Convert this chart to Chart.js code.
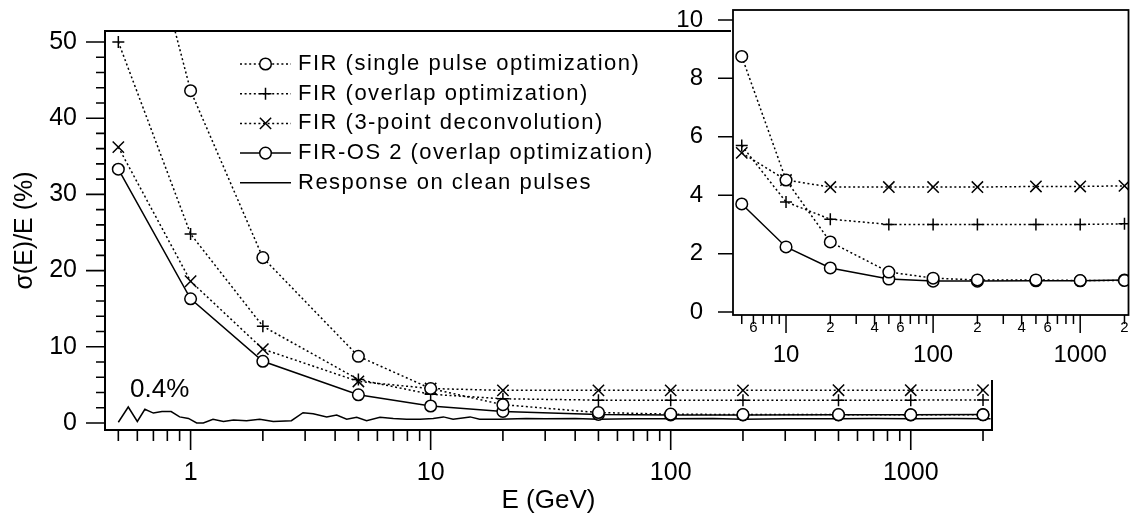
<!DOCTYPE html>
<html><head><meta charset="utf-8">
<script src="https://cdn.jsdelivr.net/npm/chart.js@4.4.1/dist/chart.umd.min.js"></script>
<style>
html,body{margin:0;padding:0;background:#fff;}
#wrap{position:relative;width:1138px;height:516px;overflow:hidden;background:#fff;}
#main{position:absolute;left:0;top:0;}
#inset{position:absolute;left:660px;top:0;}
</style></head><body>
<div id="wrap">
<canvas id="main" width="1138" height="516"></canvas>
<canvas id="inset" width="478" height="380"></canvas>
</div>
<script>
// ---------- data ----------
const energies   = [0.5, 1, 2, 5, 10, 20, 50, 100, 200, 500, 1000, 2000];
const firSingle  = [80, 43.6, 21.7, 8.75, 4.52, 2.4, 1.37, 1.16, 1.1, 1.1, 1.08, 1.08];
const firOverlap = [50, 24.8, 12.7, 5.7, 3.77, 3.18, 3.0, 3.0, 3.0, 3.0, 3.0, 3.02];
const fir3Point  = [36.2, 18.6, 9.7, 5.45, 4.52, 4.28, 4.28, 4.28, 4.28, 4.3, 4.3, 4.32];
const firOS2     = [33.3, 16.3, 8.1, 3.7, 2.23, 1.51, 1.13, 1.06, 1.06, 1.07, 1.07, 1.1];
const cleanE     = [0.5, 0.55, 0.6, 0.645, 0.7, 0.76, 0.83, 0.9, 0.98, 1.06, 1.13, 1.24, 1.37, 1.51, 1.71, 1.94, 2.21, 2.63, 2.94, 3.24,
                    3.69, 4.06, 4.47, 4.92, 5.41, 6.15, 6.99, 7.94, 9.02, 10.25, 11.3, 12.4, 14.6, 16.0, 19.4, 25, 30, 40, 50, 70,
                    100, 150, 200, 300, 500, 700, 1000, 1500, 2000, 2150];
const cleanSigma = [0.1, 2.1, 0.2, 1.8, 1.3, 1.5, 1.5, 0.8, 0.6, 0.0, 0.0, 0.5, 0.2, 0.4, 0.3, 0.5, 0.2, 0.3, 1.35, 1.2,
                    0.8, 1.05, 0.5, 0.75, 0.3, 0.75, 0.6, 0.5, 0.5, 0.6, 0.8, 0.5, 0.8, 0.5, 0.5, 0.6, 0.55, 0.6, 0.5, 0.55,
                    0.55, 0.6, 0.5, 0.55, 0.55, 0.6, 0.55, 0.6, 0.55, 0.55];
const seriesNames = ['FIR (single pulse optimization)', 'FIR (overlap optimization)', 'FIR (3-point deconvolution)',
                     'FIR-OS 2 (overlap optimization)', 'Response on clean pulses'];
const noteText = '0.4%';

// ---------- tick labels ----------
const mainXTickValues = [1, 10, 100, 1000];
const mainXTickLabels = ['1', '10', '100', '1000'];
const mainXMinor = [0.5,0.6,0.7,0.8,0.9, 2,3,4,5,6,7,8,9, 20,30,40,50,60,70,80,90, 200,300,400,500,600,700,800,900, 2000];
const mainYTickValues = [0, 10, 20, 30, 40, 50];
const mainYTickLabels = ['0', '10', '20', '30', '40', '50'];
const mainYMinor = [2,4,6,8,12,14,16,18,22,24,26,28,32,34,36,38,42,44,46,48];
const insetXTickValues = [6, 10, 20, 40, 60, 100, 200, 400, 600, 1000, 2000];
const insetXTickLabels = ['6', ['', '10'], '2', '4', '6', ['', '100'], '2', '4', '6', ['', '1000'], '2'];
const insetXMajor = [10, 100, 1000];
const insetXMinor = [5,6,7,8,9, 20,30,40,50,60,70,80,90, 200,300,400,500,600,700,800,900, 2000];
const insetYTickValues = [0, 2, 4, 6, 8, 10];
const insetYTickLabels = ['0', '2', '4', '6', '8', '10'];

const FONT = "'Liberation Sans', Arial, Helvetica, sans-serif";
Chart.defaults.font.family = FONT;
Chart.defaults.color = '#000';

const pts = (xs, ys, from) => xs.map((x, i) => ({x, y: ys[i]})).slice(from || 0);

const styles = [
  {dash: [2, 2.6], marker: 'circle', radius: 5.8},
  {dash: [2, 2.6], marker: 'cross', radius: 6},
  {dash: [2, 2.6], marker: 'crossRot', radius: 8},
  {dash: [], marker: 'circle', radius: 5.8},
  {dash: [], marker: false, radius: 0}
];

function makeDatasets(from, withClean) {
  const series = [firSingle, firOverlap, fir3Point, firOS2];
  const ds = series.map((s, i) => ({
    label: seriesNames[i],
    data: pts(energies, s, from),
    borderColor: '#000', borderWidth: 1.5, borderDash: styles[i].dash,
    pointStyle: styles[i].marker, pointRadius: styles[i].radius,
    pointBorderWidth: 1.5, pointBorderColor: '#000', pointBackgroundColor: '#fff',
    tension: 0, fill: false
  }));
  if (withClean) ds.push({
    label: seriesNames[4], data: pts(cleanE, cleanSigma), borderColor: '#000', borderWidth: 1.5,
    pointRadius: 0, tension: 0, fill: false
  });
  return ds;
}

const frameTicks = {
  id: 'frameTicks',
  beforeDraw(chart, args, o) {
    if (!o.bg) return;
    const ctx = chart.ctx;
    ctx.save(); ctx.fillStyle = '#fff';
    o.bg.forEach(r => ctx.fillRect(r[0], r[1], r[2], r[3]));
    ctx.restore();
  },
  afterDraw(chart, args, o) {
    const {ctx, chartArea: a, scales} = chart;
    ctx.save();
    ctx.strokeStyle = '#000';
    ctx.lineWidth = o.frameWidth;
    ctx.strokeRect(a.left, a.top, a.right - a.left, a.bottom - a.top);
    ctx.lineWidth = o.tickWidth;
    ctx.beginPath();
    const dx = (vals, len) => vals.forEach(v => { const p = scales.x.getPixelForValue(v); ctx.moveTo(p, a.bottom); ctx.lineTo(p, a.bottom + len); });
    const dy = (vals, len) => vals.forEach(v => { const p = scales.y.getPixelForValue(v); ctx.moveTo(a.left, p); ctx.lineTo(a.left - len, p); });
    dx(o.xMajor, o.xMajorLen); dx(o.xMinor, o.xMinorLen);
    dy(o.yMajor, o.yMajorLen); dy(o.yMinor, o.yMinorLen);
    ctx.stroke();
    ctx.restore();
  }
};

function drawMarker(ctx, style, r, x, y) {
  ctx.beginPath();
  if (style === 'circle') { ctx.arc(x, y, r, 0, Math.PI * 2); ctx.fillStyle = '#fff'; ctx.fill(); ctx.stroke(); }
  else if (style === 'cross') { ctx.moveTo(x - r, y); ctx.lineTo(x + r, y); ctx.moveTo(x, y - r); ctx.lineTo(x, y + r); ctx.stroke(); }
  else if (style === 'crossRot') { const d = r * Math.SQRT1_2; ctx.moveTo(x - d, y - d); ctx.lineTo(x + d, y + d); ctx.moveTo(x - d, y + d); ctx.lineTo(x + d, y - d); ctx.stroke(); }
}

const customLegend = {
  id: 'customLegend',
  afterDraw(chart, args, o) {
    const ctx = chart.ctx;
    ctx.save();
    ctx.strokeStyle = '#000'; ctx.fillStyle = '#000';
    seriesNames.forEach((name, i) => {
      const y = o.top + i * o.step;
      ctx.lineWidth = 1.5;
      ctx.setLineDash(styles[i].dash);
      ctx.beginPath(); ctx.moveTo(o.x0, y); ctx.lineTo(o.x1, y); ctx.stroke();
      ctx.setLineDash([]);
      if (styles[i].marker) drawMarker(ctx, styles[i].marker, styles[i].radius, (o.x0 + o.x1) / 2, y);
      ctx.fillStyle = '#000';
      ctx.font = o.font;
      try { ctx.letterSpacing = o.spacing; } catch (e) {}
      ctx.textBaseline = 'middle'; ctx.textAlign = 'left';
      ctx.fillText(name, o.textX, y);
      try { ctx.letterSpacing = '0px'; } catch (e) {}
    });
    ctx.font = o.noteFont;
    ctx.textBaseline = 'middle';
    ctx.fillText(noteText, o.noteX, o.noteY);
    ctx.restore();
  }
};

// ---------- main chart ----------
new Chart(document.getElementById('main'), {
  type: 'line',
  data: {datasets: makeDatasets(0, true)},
  plugins: [frameTicks, customLegend],
  options: {
    responsive: false, animation: false, devicePixelRatio: 1,
    layout: {padding: {left: 0, top: 31, right: 146, bottom: 0}},
    plugins: {
      legend: {display: false}, tooltip: {enabled: false},
      frameTicks: {frameWidth: 2, tickWidth: 1.6,
        xMajor: mainXTickValues, xMinor: mainXMinor, xMajorLen: 20, xMinorLen: 11,
        yMajor: mainYTickValues, yMinor: mainYMinor, yMajorLen: 19, yMinorLen: 9},
      customLegend: {top: 64, step: 29.7, x0: 240, x1: 291, textX: 298, font: "22px " + FONT, spacing: '1.5px',
        noteFont: "26px " + FONT, noteX: 130, noteY: 390}
    },
    scales: {
      x: {
        type: 'logarithmic', bounds: 'data', min: 0.44, max: 2180,
        grid: {display: false, drawTicks: false}, border: {display: false},
        afterBuildTicks: s => { s.ticks = mainXTickValues.map(v => ({value: v})); },
        afterFit: s => { s.height = 86; s.paddingLeft = 0; s.paddingRight = 0; },
        ticks: {autoSkip: false, maxRotation: 0, minRotation: 0, padding: 28, font: {size: 25},
          callback: (v, i) => mainXTickLabels[i]},
        title: {display: true, text: 'E (GeV)', font: {size: 26}, padding: {top: 0, bottom: 0}}
      },
      y: {
        type: 'linear', bounds: 'data', min: -0.92, max: 51.44,
        grid: {display: false, drawTicks: false}, border: {display: false},
        afterBuildTicks: s => { s.ticks = mainYTickValues.map(v => ({value: v})); },
        afterFit: s => { s.width = 105; s.paddingTop = 0; s.paddingBottom = 0; },
        ticks: {autoSkip: false, padding: 28, font: {size: 25}, callback: (v, i) => mainYTickLabels[i]},
        title: {display: true, text: 'σ(E)/E (%)', font: {size: 25}, padding: {top: 10, bottom: 10}}
      }
    }
  }
});

// ---------- inset chart ----------
new Chart(document.getElementById('inset'), {
  type: 'line',
  data: {datasets: makeDatasets(3, false)},
  plugins: [frameTicks],
  options: {
    responsive: false, animation: false, devicePixelRatio: 1,
    layout: {padding: {left: 0, top: 10, right: 3, bottom: 0}},
    plugins: {
      legend: {display: false}, tooltip: {enabled: false},
      frameTicks: {frameWidth: 1.8, tickWidth: 1.5, bg: [[0, 34, 478, 346], [71, 0, 407, 34]],
        xMajor: insetXMajor, xMinor: insetXMinor, xMajorLen: 18, xMinorLen: 9,
        yMajor: insetYTickValues, yMinor: [], yMajorLen: 15, yMinorLen: 0}
    },
    scales: {
      x: {
        type: 'logarithmic', bounds: 'data', min: 4.36, max: 2130,
        grid: {display: false, drawTicks: false}, border: {display: false},
        afterBuildTicks: s => { s.ticks = insetXTickValues.map(v => ({value: v})); },
        afterFit: s => { s.height = 65; s.paddingLeft = 0; s.paddingRight = 0; },
        ticks: {autoSkip: false, maxRotation: 0, minRotation: 0, padding: 4,
          font: c => (c.tick && insetXMajor.includes(c.tick.value)) ? {size: 24, lineHeight: 1} : {size: 15, lineHeight: 1.2},
          callback: (v, i) => insetXTickLabels[i]}
      },
      y: {
        type: 'linear', bounds: 'data', min: -0.1, max: 10.34,
        grid: {display: false, drawTicks: false}, border: {display: false},
        afterBuildTicks: s => { s.ticks = insetYTickValues.map(v => ({value: v})); },
        afterFit: s => { s.width = 73; s.paddingTop = 0; s.paddingBottom = 0; },
        ticks: {autoSkip: false, padding: 30, font: {size: 24}, callback: (v, i) => insetYTickLabels[i]}
      }
    }
  }
});
</script>
</body></html>
